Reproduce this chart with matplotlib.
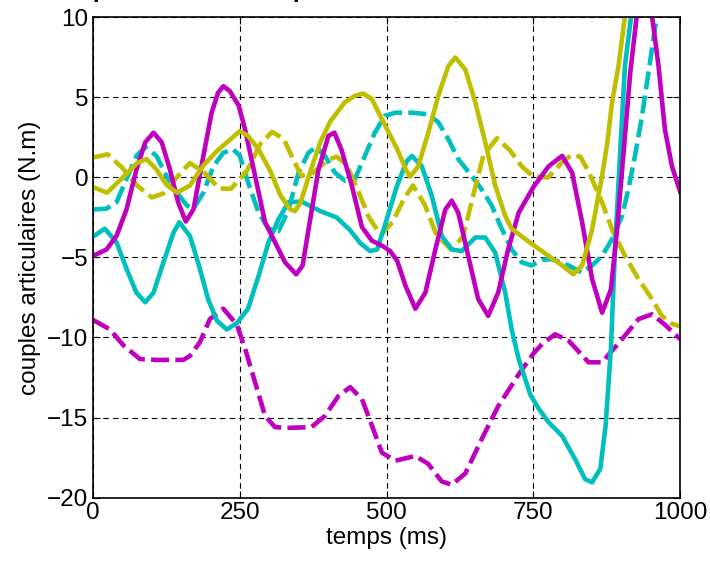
import matplotlib
matplotlib.use('Agg')
import matplotlib.pyplot as plt
import numpy as np

plt.rcParams['font.family'] = ['Liberation Sans', 'DejaVu Sans']
plt.rcParams['lines.scale_dashes'] = False
plt.rcParams['lines.solid_joinstyle'] = 'round'
plt.rcParams['lines.dash_joinstyle'] = 'round'

# cyan, trait plein
t_cs = [0, 20, 40, 57, 74, 89, 103, 120, 137, 147, 165, 182, 196, 211, 228, 245, 264, 282, 299, 316,
        333, 355, 387, 415, 438, 455, 472, 484, 497, 517, 534, 543, 560, 577, 594, 611, 628, 651, 668, 685,
        702, 713, 725, 745, 760, 776, 799, 821, 838, 850, 864, 873, 882, 889, 898, 906, 918, 935, 960]
v_cs = [-3.7, -3.2, -4.05, -5.7, -7.2, -7.8, -7.2, -5.3, -3.45, -2.8, -3.65, -5.7, -7.6, -8.95, -9.5, -9.1, -8.2, -6.15, -4.05, -2.6,
        -1.55, -1.5, -2.1, -2.5, -3.3, -4.1, -4.6, -4.5, -3.0, -0.6, 1.0, 1.35, 0.7, -1.15, -3.65, -4.5, -4.6, -3.75, -3.75, -4.7,
        -7.2, -9.5, -11.35, -13.6, -14.5, -15.3, -16.15, -17.6, -18.85, -19.05, -18.2, -15.5, -10.7, -4.5, 1.75, 7.0, 10.5, 14.0, 18.0]

# cyan, tirets
t_cd = [0, 23, 40, 57, 74, 89, 108, 125, 143, 160, 171, 188, 205, 222, 239, 250, 264, 282, 299, 316,
        333, 350, 367, 380, 395, 412, 429, 446, 463, 480, 497, 515, 543, 571, 588, 605, 622, 645, 662, 679,
        696, 713, 730, 747, 765, 781, 810, 833, 850, 867, 884, 901, 912, 923, 935, 946, 957, 970, 1000]
v_cd = [-2.0, -1.95, -1.55, -0.1, 1.35, 1.9, 1.35, 0.1, -0.95, -1.75, -1.95, -0.95, 0.7, 1.55, 1.75, 1.35, -0.3, -2.2, -3.2, -3.35,
        -2.0, 0.3, 1.55, 1.9, 1.35, 0.3, -0.2, -0.1, 1.35, 2.8, 3.85, 4.05, 4.05, 3.95, 3.45, 2.4, 1.15, 0.1, -0.75, -1.75,
        -3.2, -4.5, -5.3, -5.5, -5.15, -5.1, -5.5, -5.95, -5.5, -4.9, -3.85, -2.4, -0.7, 1.35, 3.85, 6.55, 9.3, 12.0, 18.0]

# magenta, trait plein
t_ms = [0, 23, 40, 57, 74, 89, 103, 117, 131, 145, 158, 171, 188, 202, 213, 222, 233, 248, 259, 276,
        293, 310, 327, 346, 357, 367, 384, 401, 411, 423, 440, 458, 475, 494, 506, 518, 532, 549, 566, 583,
        600, 611, 622, 639, 656, 673, 690, 707, 725, 750, 776, 799, 816, 833, 850, 867, 882, 892, 904, 915,
        926, 940, 952, 963, 974, 986, 1000]
v_ms = [-4.9, -4.5, -3.65, -2.0, 0.5, 2.2, 2.8, 2.2, 0.5, -1.55, -2.75, -2.0, 1.35, 4.05, 5.3, 5.7, 5.4, 4.5, 3.0, 0.1,
        -2.8, -4.05, -5.3, -6.05, -5.5, -3.25, 0.5, 2.6, 2.8, 1.75, -0.4, -3.1, -3.95, -4.3, -4.6, -5.2, -6.75, -8.2, -7.2, -4.5,
        -2.0, -1.45, -2.2, -4.9, -7.6, -8.65, -7.2, -4.5, -2.2, -0.6, 0.7, 1.35, 0.3, -2.8, -6.35, -8.45, -7.0, -3.45, 1.75, 6.55,
        10.1, 12.0, 10.1, 7.0, 3.0, 0.7, -0.9]

# magenta, tirets
t_md = [0, 29, 52, 80, 108, 154, 165, 182, 199, 222, 245, 259, 276, 293, 310, 330, 372, 395, 418, 438,
        458, 475, 492, 506, 515, 549, 571, 594, 611, 634, 662, 690, 725, 750, 765, 787, 810, 844, 867, 901,
        929, 952, 974, 1000]
v_md = [-8.9, -9.5, -10.5, -11.35, -11.4, -11.4, -11.15, -10.3, -8.85, -8.2, -9.2, -10.7, -12.8, -14.9, -15.6, -15.65, -15.6, -14.9, -13.65, -13.1,
        -13.85, -15.5, -17.2, -17.5, -17.7, -17.4, -17.9, -19.0, -19.2, -18.5, -16.35, -14.3, -12.3, -11.0, -10.4, -9.8, -10.2, -11.55, -11.55, -10.1,
        -8.85, -8.55, -9.2, -10.1]

# jaune, trait plein
t_ys = [0, 24, 51, 75, 91, 108, 125, 143, 165, 188, 211, 233, 250, 264, 282, 302, 319, 336, 344, 353,
        370, 387, 404, 429, 446, 460, 475, 494, 517, 534, 540, 554, 571, 588, 605, 617, 634, 651, 668, 685,
        702, 713, 736, 753, 776, 799, 818, 833, 850, 867, 876, 884, 895, 906, 930, 1000]
v_ys = [-0.6, -0.95, 0.0, 0.9, 1.15, 0.5, -0.45, -0.95, -0.5, 0.75, 1.65, 2.35, 2.9, 2.6, 1.75, 0.4, -1.1, -2.0, -2.1, -1.6,
        0.35, 2.2, 3.5, 4.7, 5.1, 5.25, 4.9, 3.5, 1.85, 0.4, 0.05, 0.7, 2.8, 5.1, 6.95, 7.5, 6.75, 4.7, 2.2, -0.5,
        -2.4, -3.2, -3.85, -4.3, -4.9, -5.5, -6.05, -5.5, -3.25, 0.1, 2.2, 4.7, 7.0, 10.1, 15.0, 25.0]

# jaune, tirets
t_yd = [0, 25, 50, 75, 100, 120, 140, 165, 190, 215, 235, 262, 285, 305, 325, 340, 355, 375, 400, 415,
        432, 450, 470, 490, 510, 530, 545, 565, 585, 610, 630, 645, 665, 688, 710, 730, 750, 775, 800, 815,
        830, 845, 867, 884, 906, 929, 952, 969, 986, 1000]
v_yd = [1.25, 1.45, 0.6, -0.5, -1.25, -1.0, -0.1, 0.9, 0.3, -0.7, -0.7, 0.4, 2.1, 2.85, 2.4, 1.2, 0.1, 0.3, 1.1, 1.3,
        0.8, -0.7, -2.5, -3.6, -2.8, -1.3, -0.5, -1.7, -3.6, -4.5, -3.7, -1.5, 1.4, 2.45, 1.7, 0.7, 0.05, 0.0, 1.0, 1.4,
        1.3, 0.3, -1.55, -3.25, -4.9, -6.35, -7.6, -8.65, -9.15, -9.3]

c_cyan = '#00BFBF'
c_mag = '#BF00BF'
c_jaune = '#BFBF00'

fig = plt.figure(figsize=(7.1, 5.63), dpi=100)
ax = fig.add_axes([0.131, 0.1163, 0.827, 0.8527])

lw = 3.3
tir = (13, 4.5)
ax.plot(t_cd, v_cd, color=c_cyan, lw=lw, dashes=tir)
ax.plot(t_yd, v_yd, color=c_jaune, lw=lw, dashes=tir)
ax.plot(t_md, v_md, color=c_mag, lw=lw, dashes=tir)
ax.plot(t_cs, v_cs, color=c_cyan, lw=lw)
ax.plot(t_ms, v_ms, color=c_mag, lw=lw)
ax.plot(t_ys, v_ys, color=c_jaune, lw=lw)

ax.set_xlim(0, 1000)
ax.set_ylim(-20, 10)
ax.set_xticks([0, 250, 500, 750, 1000])
ax.set_yticks([-20, -15, -10, -5, 0, 5, 10])
ax.grid(True, color='black', linestyle=(0, (4, 3)), linewidth=0.8)
ax.tick_params(direction='in', top=True, right=True, labelsize=17.5, length=5)
for s in ax.spines.values():
    s.set_linewidth(1.2)

ax.set_xlabel('temps (ms)', fontsize=17.5, labelpad=2)
ax.set_ylabel('couples articulaires (N.m)', fontsize=17.5, labelpad=4)

# titre coupé en haut de l'image (seuls les jambages des p restent visibles)
fig.text(39 / 710, 1 + 2.5 / 563, 'Comparaison des couples articulaires simulés et mesurés',
         fontsize=17.5, fontweight='bold', ha='left', va='baseline')

fig.savefig('out.png', dpi=100)
